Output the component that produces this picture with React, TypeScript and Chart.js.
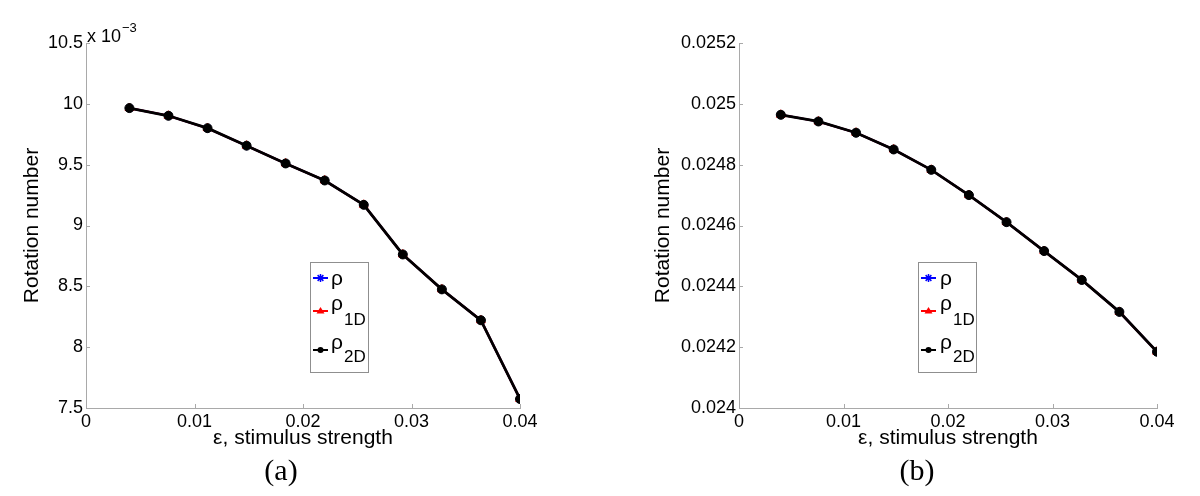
import React, { useEffect, useRef } from 'react';
import { Chart, registerables } from 'chart.js';

Chart.register(...registerables);

// ---------- data ----------
const epsilon = [0.004, 0.0076, 0.0112, 0.0148, 0.0184, 0.022, 0.0256, 0.0292, 0.0328, 0.0364, 0.04];

// panel (a)
const rhoA = [0.009965, 0.009902, 0.0098, 0.009656, 0.00951, 0.00937, 0.00917, 0.008762, 0.008475, 0.008221, 0.007574];
const rho1DA = [0.009965, 0.009902, 0.0098, 0.009656, 0.00951, 0.00937, 0.00917, 0.008762, 0.008475, 0.008221, 0.007574];
const rho2DA = [0.009965, 0.009902, 0.0098, 0.009656, 0.00951, 0.00937, 0.00917, 0.008762, 0.008475, 0.008221, 0.007574];

// panel (b)
const rhoB = [0.024964, 0.024942, 0.024905, 0.02485, 0.024783, 0.0247, 0.024611, 0.024516, 0.024421, 0.024316, 0.024185];
const rho1DB = [0.024964, 0.024942, 0.024905, 0.02485, 0.024783, 0.0247, 0.024611, 0.024516, 0.024421, 0.024316, 0.024185];
const rho2DB = [0.024964, 0.024942, 0.024905, 0.02485, 0.024783, 0.0247, 0.024611, 0.024516, 0.024421, 0.024316, 0.024185];

const xTicks = [0, 0.01, 0.02, 0.03, 0.04];
const xTickLabels = ['0', '0.01', '0.02', '0.03', '0.04'];

const yTicksA = [0.0075, 0.008, 0.0085, 0.009, 0.0095, 0.01, 0.0105];
const yTickLabelsA = ['7.5', '8', '8.5', '9', '9.5', '10', '10.5'];

const yTicksB = [0.024, 0.0242, 0.0244, 0.0246, 0.0248, 0.025, 0.0252];
const yTickLabelsB = ['0.024', '0.0242', '0.0244', '0.0246', '0.0248', '0.025', '0.0252'];

const seriesNames = ['ρ', 'ρ', 'ρ'];
const seriesSubs = ['', '1D', '2D'];
const seriesColors = ['#0000ff', '#ff0000', '#000000'];
const seriesMarkers = ['star', 'triangle', 'circle'];

const xTitle = 'ε, stimulus strength';
const yTitle = 'Rotation number';

// ---------- styling ----------
const SANS = '"Liberation Sans", Arial, Helvetica, sans-serif';
const SERIF = '"Liberation Serif", "Times New Roman", serif';
const AXIS_COLOR = '#a9a9a9';

function drawMarker(ctx: CanvasRenderingContext2D, kind: string, x: number, y: number, r: number, color: string) {
  ctx.save();
  ctx.strokeStyle = color;
  ctx.fillStyle = color;
  ctx.lineWidth = 1.5;
  ctx.beginPath();
  if (kind === 'star') {
    ctx.moveTo(x - r, y); ctx.lineTo(x + r, y);
    ctx.moveTo(x, y - r); ctx.lineTo(x, y + r);
    const d = r * 0.72;
    ctx.moveTo(x - d, y - d); ctx.lineTo(x + d, y + d);
    ctx.moveTo(x - d, y + d); ctx.lineTo(x + d, y - d);
    ctx.stroke();
  } else if (kind === 'triangle') {
    ctx.moveTo(x, y - r);
    ctx.lineTo(x + r, y + r * 0.6);
    ctx.lineTo(x - r, y + r * 0.6);
    ctx.closePath();
    ctx.fill();
  } else {
    ctx.arc(x, y, r, 0, Math.PI * 2);
    ctx.fill();
  }
  ctx.restore();
}

type PanelProps = {
  left: number;
  ys: number[][];
  yTicks: number[];
  yLabels: string[];
  axisWidth: number;
  padRight: number;
  yTitlePad: number;
  legendX: number;
  legendText: number;
  exponent: boolean;
};

function Panel(p: PanelProps) {
  const ref = useRef<HTMLCanvasElement | null>(null);

  useEffect(() => {
    if (!ref.current) return;
    const order = [3, 2, 1];
    const widths = [2.2, 2.2, 2.8];
    const radii = [4.5, 5, 4.5];

    const decor = {
      id: 'decor',
      afterDraw(chart: any) {
        const { ctx, chartArea, scales } = chart;
        const xs = scales.x;
        const ys = scales.y;
        ctx.save();
        // inward tick marks
        ctx.strokeStyle = AXIS_COLOR;
        ctx.lineWidth = 1;
        ctx.beginPath();
        xs.ticks.forEach((t: any) => {
          const px = Math.round(xs.getPixelForValue(t.value)) + 0.5;
          ctx.moveTo(px, chartArea.bottom);
          ctx.lineTo(px, chartArea.bottom - 4);
        });
        ys.ticks.forEach((t: any) => {
          const py = Math.round(ys.getPixelForValue(t.value)) + 0.5;
          ctx.moveTo(chartArea.left, py);
          ctx.lineTo(chartArea.left + 4, py);
        });
        ctx.stroke();

        // legend box
        const bx = p.legendX;
        const by = 262;
        const bw = 58;
        const bh = 110;
        ctx.fillStyle = '#ffffff';
        ctx.fillRect(bx, by, bw, bh);
        ctx.strokeStyle = '#8f8f8f';
        ctx.lineWidth = 1;
        ctx.strokeRect(bx + 0.5, by + 0.5, bw, bh);

        const lineYs = [16, 49, 88];
        const baseYs = [23, 48, 87];
        const subYs = [0, 63, 100];
        for (let i = 0; i < 3; i++) {
          const ly = by + lineYs[i];
          ctx.strokeStyle = seriesColors[i];
          ctx.lineWidth = 2;
          ctx.beginPath();
          ctx.moveTo(bx + 3, ly);
          ctx.lineTo(bx + 18, ly);
          ctx.stroke();
          drawMarker(ctx, seriesMarkers[i], bx + 10.5, ly, i === 2 ? 3 : 4, seriesColors[i]);
          ctx.fillStyle = '#000';
          ctx.textAlign = 'left';
          ctx.textBaseline = 'alphabetic';
          ctx.font = `21px ${SANS}`;
          const tx = bx + p.legendText;
          ctx.fillText(seriesNames[i], tx, by + baseYs[i]);
          if (seriesSubs[i]) {
            const w = ctx.measureText(seriesNames[i]).width;
            ctx.font = `17px ${SANS}`;
            ctx.fillText(seriesSubs[i], tx + w + 1, by + subYs[i]);
          }
        }

        if (p.exponent) {
          ctx.fillStyle = '#000';
          ctx.textAlign = 'left';
          ctx.textBaseline = 'alphabetic';
          ctx.font = `18px ${SANS}`;
          const ex = chartArea.left + 1;
          ctx.fillText('x 10', ex, 42);
          const w = ctx.measureText('x 10').width;
          ctx.font = `13px ${SANS}`;
          ctx.fillText('−3', ex + w + 1, 32);
        }
        ctx.restore();
      },
    };

    const datasets = p.ys.map((arr, i) => ({
      label: seriesNames[i] + seriesSubs[i],
      data: epsilon.map((x, j) => ({ x, y: arr[j] })),
      borderColor: seriesColors[i],
      backgroundColor: seriesColors[i],
      borderWidth: widths[i],
      pointStyle: seriesMarkers[i] as any,
      pointRadius: radii[i],
      pointBorderWidth: i === 0 ? 1.5 : 1,
      pointBorderColor: seriesColors[i],
      pointBackgroundColor: seriesColors[i],
      tension: 0,
      fill: false,
      order: order[i],
    }));

    const chart = new Chart(ref.current, {
      type: 'line',
      data: { datasets },
      options: {
        animation: false,
        responsive: false,
        devicePixelRatio: 1,
        events: [],
        layout: { padding: { top: 43, right: p.padRight, bottom: 0, left: 0 } },
        plugins: { legend: { display: false }, tooltip: { enabled: false } },
        scales: {
          x: {
            type: 'linear',
            min: 0,
            max: 0.04,
            afterBuildTicks: (s: any) => { s.ticks = xTicks.map((v) => ({ value: v })); },
            afterFit: (s: any) => { s.height = 52; },
            grid: { display: false, drawTicks: false },
            border: { display: true, color: AXIS_COLOR, width: 1 },
            ticks: {
              autoSkip: false,
              maxRotation: 0,
              padding: 3,
              color: '#000',
              font: { family: SANS, size: 18 },
              callback: (_v: any, i: number) => xTickLabels[i],
            },
            title: {
              display: true,
              text: xTitle,
              color: '#000',
              font: { family: SANS, size: 21 },
              padding: { top: 0, bottom: 9 },
            },
          },
          y: {
            type: 'linear',
            min: p.yTicks[0],
            max: p.yTicks[p.yTicks.length - 1],
            afterBuildTicks: (s: any) => { s.ticks = p.yTicks.map((v) => ({ value: v })); },
            afterFit: (s: any) => { s.width = p.axisWidth; },
            grid: { display: false, drawTicks: false },
            border: { display: true, color: AXIS_COLOR, width: 1 },
            ticks: {
              autoSkip: false,
              padding: 3,
              color: '#000',
              font: { family: SANS, size: 18 },
              callback: (_v: any, i: number) => p.yLabels[i],
            },
            title: {
              display: true,
              text: yTitle,
              color: '#000',
              font: { family: SANS, size: 21 },
              padding: { top: p.yTitlePad, bottom: 0 },
            },
          },
        },
      },
      plugins: [decor],
    } as any);

    return () => chart.destroy();
  }, []);

  return (
    <div style={{ position: 'absolute', left: p.left, top: 0, width: 600, height: 460 }}>
      <canvas ref={ref} width={600} height={460} style={{ width: 600, height: 460, display: 'block' }} />
    </div>
  );
}

export default function App() {
  const caption: React.CSSProperties = {
    position: 'absolute',
    top: 470,
    transform: 'translate(-50%, -50%)',
    fontFamily: SERIF,
    fontSize: 30,
    lineHeight: '34px',
    color: '#000',
    whiteSpace: 'nowrap',
  };
  return (
    <div style={{ position: 'absolute', left: 0, top: 0, width: 1200, height: 496, background: '#fff', overflow: 'hidden' }}>
      <Panel
        left={0}
        ys={[rhoA, rho1DA, rho2DA]}
        yTicks={yTicksA}
        yLabels={yTickLabelsA}
        axisWidth={86}
        padRight={80}
        yTitlePad={20}
        legendX={310}
        legendText={21}
        exponent={true}
      />
      <Panel
        left={600}
        ys={[rhoB, rho1DB, rho2DB]}
        yTicks={yTicksB}
        yLabels={yTickLabelsB}
        axisWidth={139}
        padRight={43}
        yTitlePad={51}
        legendX={318}
        legendText={22}
        exponent={false}
      />
      <div style={{ ...caption, left: 281 }}>(a)</div>
      <div style={{ ...caption, left: 917 }}>(b)</div>
    </div>
  );
}
